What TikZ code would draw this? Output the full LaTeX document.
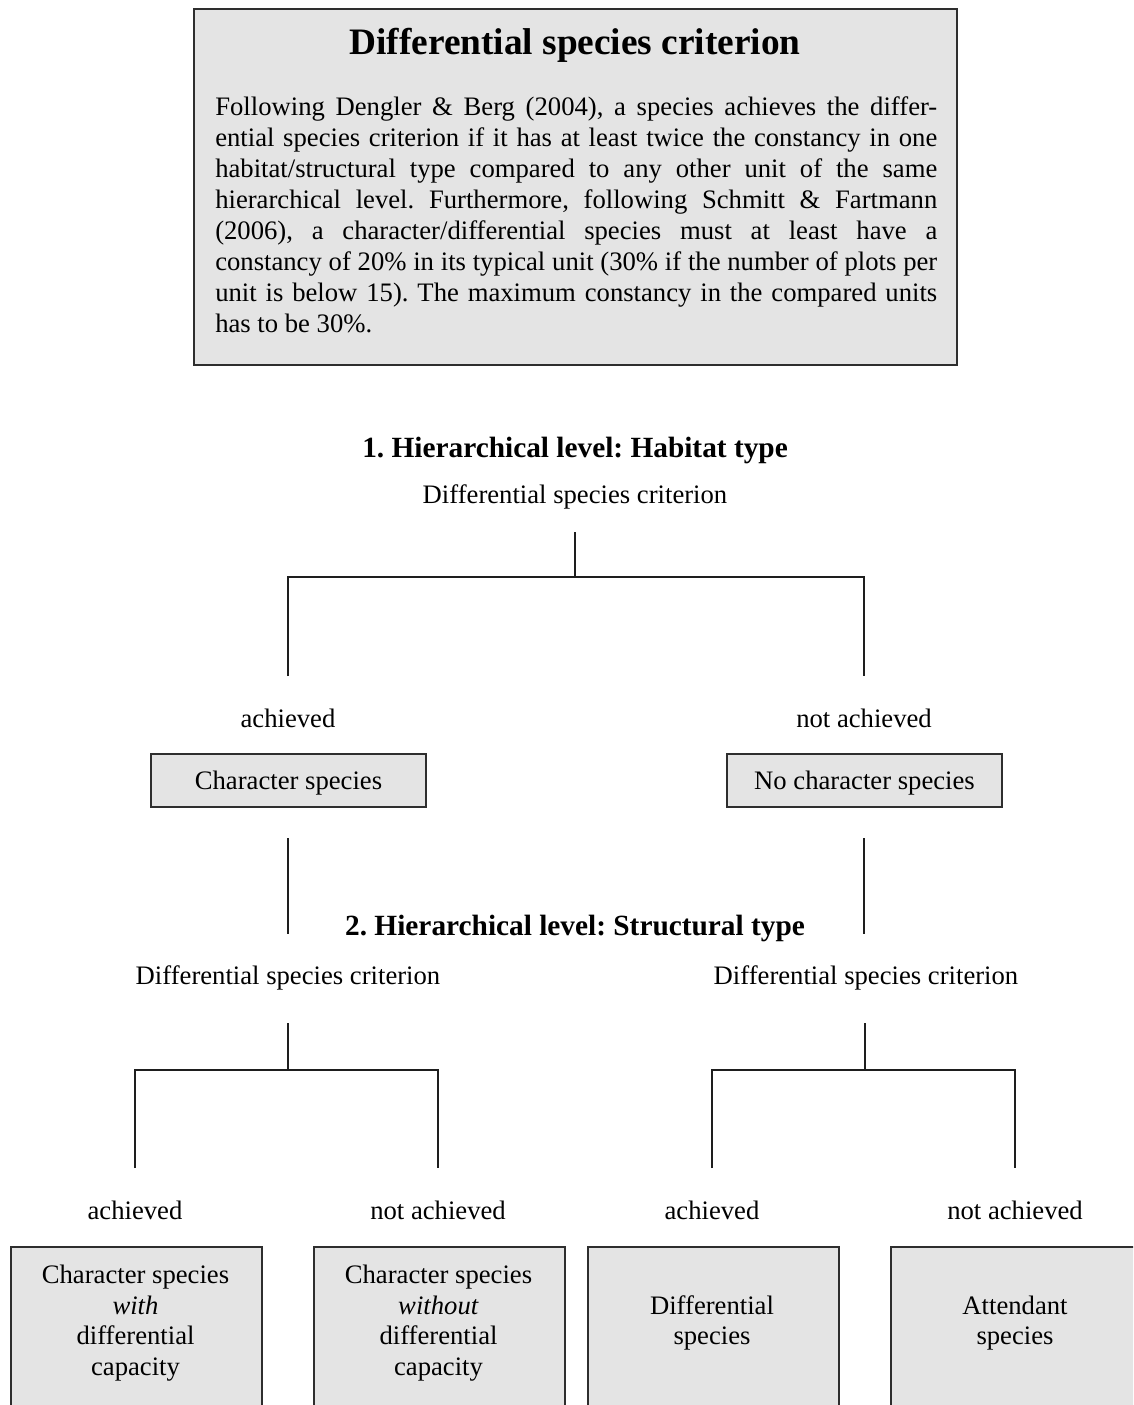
\documentclass[tikz,border=0pt]{standalone}
\usepackage{fontspec}
\setmainfont{Liberation Serif}
\definecolor{boxfill}{HTML}{E4E4E4}
\definecolor{boxline}{HTML}{2E2E2E}
\definecolor{lineclr}{HTML}{1E1E1E}
\frenchspacing
\begin{document}
\begin{tikzpicture}[x=0.75pt,y=-0.75pt,
  gbox/.style={draw=boxline,fill=boxfill,line width=1.5pt,inner sep=0pt},
  lbl/.style={font=\fontsize{20}{23}\selectfont,inner sep=0pt,align=center},
  head/.style={font=\bfseries\fontsize{22}{26}\selectfont,inner sep=0pt},
  conn/.style={draw=lineclr,line width=1.1pt}]
\useasboundingbox (0,0) rectangle (1133,1405);
\clip (0,0) rectangle (1133,1405);
\fill[white] (0,0) rectangle (1133,1405);

% top box
\node[gbox,anchor=north west,minimum width=572.25pt,minimum height=267pt] (topbox) at (193,8) {};
\node[inner sep=0pt,font=\bfseries\fontsize{28}{32}\selectfont] (title) at (575,45) {Differential species criterion};
\node[inner sep=0pt,anchor=north west,text width=541.5pt,align=justify,
      font=\fontsize{20}{23.25}\selectfont] (body) at (215,96)
{Following Dengler \& Berg (2004), a species achieves the differ-\linebreak
ential species criterion if it has at least twice the constancy in one\linebreak
habitat/structural type compared to any other unit of the same\linebreak
hierarchical level. Furthermore, following Schmitt \& Fartmann\linebreak
(2006), a character/differential species must at least have a\linebreak
constancy of 20\% in its typical unit (30\% if the number of plots per\linebreak
unit is below 15). The maximum constancy in the compared units\linebreak
has to be 30\%.};

% level 1
\node[head] (lev1) at (575,450) {1. Hierarchical level: Habitat type};
\node[lbl] (dsc1) at (575,497) {Differential species criterion};
\coordinate (t1) at (575,532);
\coordinate (j1) at (575,577);
\coordinate (l1) at (288,577);
\coordinate (r1) at (864,577);
\coordinate (l1e) at (288,676);
\coordinate (r1e) at (864,676);
\draw[conn] (t1) -- (j1);
\draw[conn] (l1e) -- (l1) -- (r1) -- (r1e);

\node[lbl] (ach1) at (288,718) {achieved};
\node[lbl] (nach1) at (864,718) {not achieved};

\node[gbox,lbl,text depth=0pt,minimum width=206.25pt,minimum height=39.75pt] (cs) at (288.5,780.5) {Character species};
\node[gbox,lbl,text depth=0pt,minimum width=206.25pt,minimum height=39.75pt] (ncs) at (864.5,780.5) {No character species};

\coordinate (cl1) at (288,838);
\coordinate (cl2) at (288,934);
\coordinate (cr1) at (864,838);
\coordinate (cr2) at (864,934);
\draw[conn] (cl1) -- (cl2);
\draw[conn] (cr1) -- (cr2);

% level 2
\node[head] (lev2) at (575,928) {2. Hierarchical level: Structural type};
\node[lbl] (dsc2) at (288,978) {Differential species criterion};
\node[lbl] (dsc3) at (866,978) {Differential species criterion};

\coordinate (t2) at (288,1023);
\coordinate (j2) at (288,1070);
\coordinate (a2) at (135,1070);
\coordinate (b2) at (438,1070);
\coordinate (a2e) at (135,1168);
\coordinate (b2e) at (438,1168);
\draw[conn] (t2) -- (j2);
\draw[conn] (a2e) -- (a2) -- (b2) -- (b2e);

\coordinate (t3) at (865,1023);
\coordinate (j3) at (865,1070);
\coordinate (a3) at (712,1070);
\coordinate (b3) at (1015,1070);
\coordinate (a3e) at (712,1168);
\coordinate (b3e) at (1015,1168);
\draw[conn] (t3) -- (j3);
\draw[conn] (a3e) -- (a3) -- (b3) -- (b3e);

\node[lbl] (ach2) at (135,1210) {achieved};
\node[lbl] (nach2) at (438,1210) {not achieved};
\node[lbl] (ach3) at (712,1210) {achieved};
\node[lbl] (nach3) at (1015,1210) {not achieved};

% bottom boxes
\node[gbox,anchor=north west,minimum width=188.25pt,minimum height=150pt] (bx1) at (10,1246) {};
\node[gbox,anchor=north west,minimum width=188.25pt,minimum height=150pt] (bx2) at (313,1246) {};
\node[gbox,anchor=north west,minimum width=188.25pt,minimum height=150pt] (bx3) at (587,1246) {};
\node[gbox,anchor=north west,minimum width=188.25pt,minimum height=150pt] (bx4) at (890,1246) {};

\node[lbl] (bt1) at (135.5,1323) {Character species\\\textit{with}\\differential\\capacity};
\node[lbl] (bt2) at (438.5,1323) {Character species\\\textit{without}\\differential\\capacity};
\node[lbl] (bt3) at (712,1323) {Differential\\species};
\node[lbl] (bt4) at (1015,1323) {Attendant\\species};
\end{tikzpicture}
\end{document}
